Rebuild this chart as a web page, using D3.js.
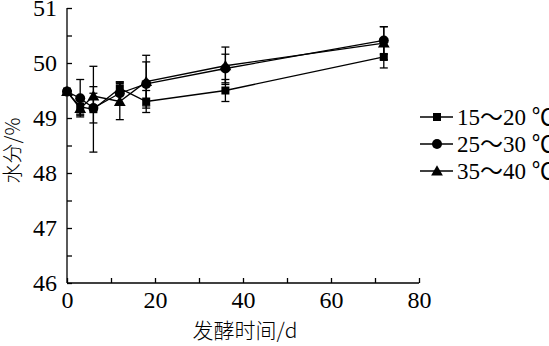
<!DOCTYPE html>
<html>
<head>
<meta charset="utf-8">
<script src="https://cdn.jsdelivr.net/npm/d3@7"></script>
<style>
  html, body { margin: 0; padding: 0; background: #fff; }
  svg { display: block; }
  text { fill: #000; }
</style>
</head>
<body>
<svg id="chart" width="549" height="346"></svg>
<script>
// Fermentation time (days)
const days = [0, 3, 6, 12, 18, 36, 72];

// Moisture content (%) for each fermentation temperature
const moisture15 = [49.48, 49.20, 49.16, 49.54, 49.30, 49.50, 50.11];
const moisture25 = [49.48, 49.36, 49.18, 49.45, 49.62, 49.90, 50.41];
const moisture35 = [49.48, 49.17, 49.40, 49.30, 49.66, 49.95, 50.36];

// Standard deviations
const err15 = [0, 0.15, 0.78, 0.12, 0.20, 0.20, 0.20];
const err25 = [0, 0.34, 0.27, 0.20, 0.40, 0.26, 0.25];
const err35 = [0, 0.10, 0.17, 0.33, 0.48, 0.34, 0.30];

const seriesNames = ["15～20 ℃", "25～30 ℃", "35～40 ℃"];
const markerTypes = ["square", "circle", "triangle"];

const xTicks = [0, 20, 40, 60, 80];
const xMinorTicks = [10, 30, 50, 70];
const yTicks = [46, 47, 48, 49, 50, 51];
const yMinorTicks = [46.5, 47.5, 48.5, 49.5, 50.5];

const xTitle = "发酵时间/d";
const yTitle = "水分/%";

const series = [
  { name: seriesNames[0], marker: markerTypes[0], values: moisture15, errors: err15 },
  { name: seriesNames[1], marker: markerTypes[1], values: moisture25, errors: err25 },
  { name: seriesNames[2], marker: markerTypes[2], values: moisture35, errors: err35 }
];

const svg = d3.select("#chart");

const x = d3.scaleLinear().domain([0, 80]).range([67, 419]);
const y = d3.scaleLinear().domain([46, 51]).range([283, 8]);

const serif = "'Liberation Serif', 'Times New Roman', 'Noto Sans CJK SC', serif";
const cjk = "'Noto Sans CJK SC', sans-serif";
const tickFont = 24;
const tickLen = 5;

// Axes with inward ticks
const xAxis = svg.append("g").attr("transform", `translate(0,${y(46)})`);
xAxis.call(d3.axisBottom(x).tickValues(xTicks).tickSize(-tickLen).tickPadding(8).tickFormat(d3.format("d")));
xAxis.append("g").call(d3.axisBottom(x).tickValues(xMinorTicks).tickSize(-tickLen).tickFormat(""));

const yAxis = svg.append("g").attr("transform", `translate(${x(0)},0)`);
yAxis.call(d3.axisLeft(y).tickValues(yTicks).tickSize(-tickLen).tickPadding(10).tickFormat(d3.format("d")));
yAxis.append("g").call(d3.axisLeft(y).tickValues(yMinorTicks).tickSize(-tickLen).tickFormat(""));

svg.selectAll(".tick line").attr("stroke", "#000").attr("stroke-width", 1.3);
svg.selectAll(".tick text")
  .attr("font-family", serif)
  .attr("font-size", tickFont)
  .attr("fill", "#000");
svg.selectAll(".domain").remove();

// Plain axis lines without end hooks
svg.append("line").attr("x1", x(0)).attr("x2", x(80)).attr("y1", y(46)).attr("y2", y(46))
  .attr("stroke", "#000").attr("stroke-width", 1.3);
svg.append("line").attr("x1", x(0)).attr("x2", x(0)).attr("y1", y(46)).attr("y2", y(51))
  .attr("stroke", "#000").attr("stroke-width", 1.3);

// Axis titles
svg.append("text")
  .attr("x", (x(0) + x(80)) / 2 + 2)
  .attr("y", 338)
  .attr("text-anchor", "middle")
  .attr("font-family", cjk)
  .attr("font-size", 21)
  .attr("font-weight", 300)
  .text(xTitle);

svg.append("text")
  .attr("transform", `translate(20,${(y(46) + y(51)) / 2 + 5}) rotate(-90)`)
  .attr("text-anchor", "middle")
  .attr("font-family", cjk)
  .attr("font-size", 20)
  .attr("font-weight", 300)
  .text(yTitle);

// Marker drawing helper
function drawMarker(g, type, cx, cy) {
  if (type === "square") {
    g.append("rect").attr("x", cx - 4).attr("y", cy - 4).attr("width", 8).attr("height", 8).attr("fill", "#000");
  } else if (type === "circle") {
    g.append("circle").attr("cx", cx).attr("cy", cy).attr("r", 5).attr("fill", "#000");
  } else {
    const s = d3.symbol().type(d3.symbolTriangle).size(60);
    g.append("path").attr("d", s()).attr("transform", `translate(${cx},${cy + 1})`).attr("fill", "#000");
  }
}

const line = d3.line().x((d, i) => x(days[i])).y(d => y(d));

const plot = svg.append("g");
series.forEach(s => {
  const g = plot.append("g");
  // error bars
  s.values.forEach((v, i) => {
    const e = s.errors[i];
    if (e <= 0) return;
    const cx = x(days[i]);
    g.append("line").attr("x1", cx).attr("x2", cx).attr("y1", y(v - e)).attr("y2", y(v + e))
      .attr("stroke", "#000").attr("stroke-width", 1.3);
    [v - e, v + e].forEach(ev => {
      g.append("line").attr("x1", cx - 4).attr("x2", cx + 4).attr("y1", y(ev)).attr("y2", y(ev))
        .attr("stroke", "#000").attr("stroke-width", 1.3);
    });
  });
  g.append("path").datum(s.values).attr("d", line)
    .attr("fill", "none").attr("stroke", "#000").attr("stroke-width", 1.3);
  s.values.forEach((v, i) => drawMarker(g, s.marker, x(days[i]), y(v)));
});

// Legend
const legendY = [117, 144, 171];
series.forEach((s, i) => {
  const g = svg.append("g");
  const ly = legendY[i];
  g.append("line").attr("x1", 420).attr("x2", 453).attr("y1", ly).attr("y2", ly)
    .attr("stroke", "#000").attr("stroke-width", 1.3);
  drawMarker(g, s.marker, 437, ly);
  g.append("text").attr("x", 457).attr("y", ly + 8)
    .attr("font-family", serif)
    .attr("font-size", 23)
    .text(s.name);
});
</script>
</body>
</html>
